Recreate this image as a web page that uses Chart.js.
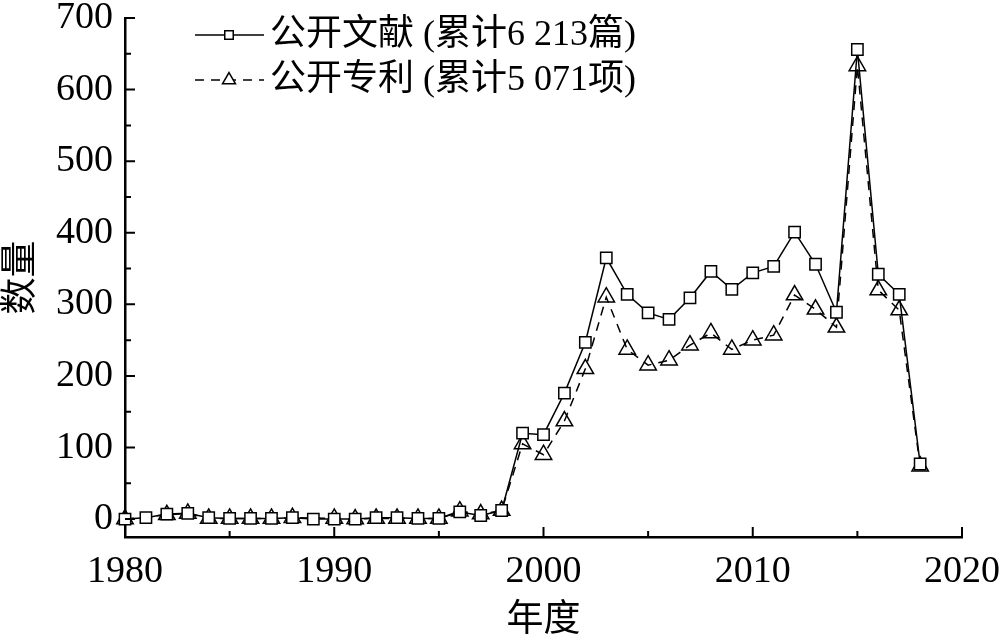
<!DOCTYPE html>
<html>
<head>
<meta charset="utf-8">
<script src="https://cdn.jsdelivr.net/npm/chart.js@4/dist/chart.umd.min.js"></script>
<style>
  html, body { margin: 0; padding: 0; background: #fff; }
  canvas { display: block; }
</style>
</head>
<body>
<canvas id="chart" width="1000" height="642"></canvas>
<script>
const years = [1980, 1981, 1982, 1983, 1984, 1985, 1986, 1987, 1988, 1989,
  1990, 1991, 1992, 1993, 1994, 1995, 1996, 1997, 1998, 1999,
  2000, 2001, 2002, 2003, 2004, 2005, 2006, 2007, 2008, 2009,
  2010, 2011, 2012, 2013, 2014, 2015, 2016, 2017, 2018];

// 公开文献
const literature = [0, 2, 7, 8, 2, 1, 1, 1, 2, 0,
  0, 0, 2, 2, 1, 1, 10, 5, 12, 120,
  118, 176, 247, 365, 314, 288, 279, 309, 346, 321,
  344, 353, 401, 356, 289, 656, 342, 314, 77];

// 公开专利
const patents = [0, null, 6, 8, 1, 1, 1, 1, 2, null,
  1, 0, 1, 1, 1, 1, 11, 7, 12, 105,
  90, 137, 210, 310, 237, 215, 222, 243, 260, 237,
  250, 257, 313, 293, 268, 633, 320, 292, 74];

const legendLabels = ['公开文献 (累计6 213篇)', '公开专利 (累计5 071项)'];
const yTicks = [0, 100, 200, 300, 400, 500, 600, 700];
const yMinorTicks = [50, 150, 250, 350, 450, 550, 650];
const xTicks = [1980, 1990, 2000, 2010, 2020];
const xMinorTicks = [1985, 1995, 2005, 2015];

const FONT = '"Liberation Serif", "Noto Sans CJK SC", serif';

// ticks pointing into the plot
const inwardTicks = {
  id: 'inwardTicks',
  afterDraw(chart) {
    const ctx = chart.ctx;
    const xs = chart.scales.x, ys = chart.scales.y;
    const left = chart.chartArea.left, bottom = chart.chartArea.bottom;
    ctx.save();
    ctx.strokeStyle = '#000';
    ctx.lineWidth = 2;
    ctx.beginPath();
    yTicks.forEach(v => { const y = ys.getPixelForValue(v); ctx.moveTo(left, y); ctx.lineTo(left + 10, y); });
    yMinorTicks.forEach(v => { const y = ys.getPixelForValue(v); ctx.moveTo(left, y); ctx.lineTo(left + 6, y); });
    xTicks.forEach(v => { const x = xs.getPixelForValue(v); ctx.moveTo(x, bottom); ctx.lineTo(x, bottom - 10); });
    xMinorTicks.forEach(v => { const x = xs.getPixelForValue(v); ctx.moveTo(x, bottom); ctx.lineTo(x, bottom - 6); });
    ctx.stroke();
    ctx.restore();
  }
};

// legend with line + marker samples
const lineLegend = {
  id: 'lineLegend',
  afterDraw(chart) {
    const ctx = chart.ctx;
    const rows = [35, 80];
    ctx.save();
    chart.data.datasets.forEach((ds, i) => {
      const y = rows[i];
      ctx.strokeStyle = '#000';
      ctx.lineWidth = 1.5;
      ctx.setLineDash(ds.borderDash || []);
      ctx.beginPath();
      ctx.moveTo(195, y);
      ctx.lineTo(264, y);
      ctx.stroke();
      ctx.setLineDash([]);
      ctx.fillStyle = '#fff';
      Chart.helpers.drawPoint(ctx, {
        pointStyle: ds.pointStyle, radius: i === 0 ? 6 : 7.5, borderWidth: 1.5
      }, 229, y);
      ctx.fillStyle = '#000';
      ctx.font = '36px ' + FONT;
      ctx.textBaseline = 'middle';
      ctx.fillText(legendLabels[i], 270, y + 1);
    });
    ctx.restore();
  }
};

const toPoints = vals => years.map((yr, i) => ({ x: yr, y: vals[i] }));

new Chart(document.getElementById('chart'), {
  type: 'line',
  data: {
    datasets: [{
      label: legendLabels[0],
      data: toPoints(literature),
      borderColor: '#000',
      borderWidth: 1.5,
      pointStyle: 'rect',
      pointRadius: 8,
      pointBorderWidth: 1.5,
      pointBackgroundColor: '#fff',
      pointBorderColor: '#000',
      clip: false
    }, {
      label: legendLabels[1],
      data: toPoints(patents),
      borderColor: '#000',
      borderWidth: 1.5,
      borderDash: [9, 7],
      spanGaps: true,
      pointStyle: 'triangle',
      pointRadius: 9.5,
      pointBorderWidth: 1.5,
      pointBackgroundColor: 'rgba(255,255,255,0)',
      pointBorderColor: '#000',
      clip: false
    }]
  },
  options: {
    responsive: false,
    animation: false,
    devicePixelRatio: 1,
    layout: { padding: { top: 18, right: 38, left: 0, bottom: 0 } },
    plugins: { legend: { display: false }, tooltip: { enabled: false } },
    scales: {
      x: {
        type: 'linear',
        min: 1980,
        max: 2020,
        grid: { display: false, drawTicks: false },
        border: { display: true, color: '#000', width: 2.5 },
        afterFit(scale) {
          scale.height = 105;
          scale.paddingLeft = 0;
          scale.paddingRight = 0;
        },
        afterBuildTicks(scale) { scale.ticks = xTicks.map(v => ({ value: v })); },
        ticks: {
          color: '#000',
          padding: 12,
          maxRotation: 0,
          font: { family: FONT, size: 38 },
          callback: v => String(v)
        },
        title: {
          display: true,
          text: '年度',
          color: '#000',
          padding: { top: 0, bottom: 2 },
          font: { family: FONT, size: 37, lineHeight: 1 }
        }
      },
      y: {
        min: -25,
        max: 700,
        grid: { display: false, drawTicks: false },
        border: { display: true, color: '#000', width: 2.5 },
        afterFit(scale) {
          scale.width = 125;
          scale.paddingTop = 0;
          scale.paddingBottom = 0;
        },
        afterBuildTicks(scale) { scale.ticks = yTicks.map(v => ({ value: v })); },
        ticks: {
          color: '#000',
          padding: 12,
          font: { family: FONT, size: 38 },
          callback: v => String(v)
        },
        title: {
          display: true,
          text: '数量',
          color: '#000',
          padding: { top: 4, bottom: 0 },
          font: { family: FONT, size: 37, lineHeight: 1 }
        }
      }
    }
  },
  plugins: [inwardTicks, lineLegend]
});
</script>
</body>
</html>
